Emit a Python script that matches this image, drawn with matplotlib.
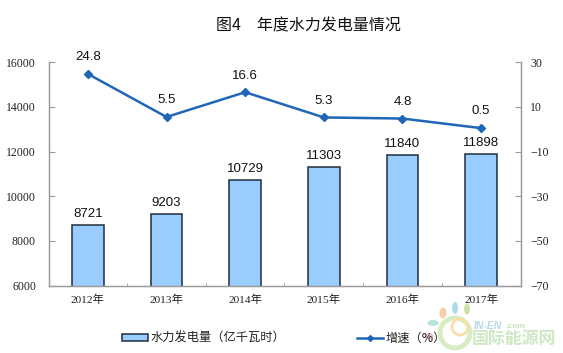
import matplotlib
matplotlib.use("Agg")
import matplotlib.pyplot as plt
from matplotlib.lines import Line2D
from matplotlib.patches import Ellipse, Patch

#Chart data
years = ["2012年", "2013年", "2014年", "2015年", "2016年", "2017年"]
power = [8721, 9203, 10729, 11303, 11840, 11898]
growth = [24.8, 5.5, 16.6, 5.3, 4.8, 0.5]
left_ticks = [6000, 8000, 10000, 12000, 14000, 16000]
right_ticks = [-70, -50, -30, -10, 10, 30]

W, H = 563, 353
serif_cjk = ["Liberation Serif", "Noto Sans CJK SC"]
cjk = ["Noto Sans CJK SC", "DejaVu Sans"]
axis_gray = "#9a9a9a"
line_blue = "#1f66b8"

fig = plt.figure(figsize=(W / 100, H / 100), dpi=100)
ax = fig.add_axes([48.5 / W, 1 - 285.5 / H, 472 / W, 223.2 / H])
ax2 = ax.twinx()

x = list(range(len(years)))

#Bars on the left axis
ax.bar(x, power, width=0.405, color="#99ccff", edgecolor="#1f2d3a", linewidth=1.1, zorder=2)
ax.set_xlim(-0.5, 5.5)
ax.set_ylim(6000, 16000)
ax.set_yticks(left_ticks)
ax.set_xticks(x)
ax.set_xticklabels(years, family=serif_cjk, fontsize=8.2, color="#222222")
ax.set_xticks([i + 0.5 for i in x[:-1]], minor=True)
ax.tick_params(axis="x", which="major", length=0, pad=6.5)
ax.tick_params(axis="x", which="minor", direction="in", length=2, width=0.6, color=axis_gray)
ax.tick_params(axis="y", direction="in", length=4, width=0.8, color=axis_gray, pad=9)
for t in ax.get_yticklabels():
    t.set_family("Liberation Serif")
    t.set_fontsize(8.5)
    t.set_color("#222222")

for i, v in zip(x, power):
    ax.annotate(str(v), (i, v), xytext=(0, 8), textcoords="offset points", ha="center", va="center",
                family="Liberation Sans", fontsize=9.5, color="#111111")

#Growth line on the right axis
ax2.plot(x, growth, color=line_blue, linewidth=1.8, marker="D", markersize=3.6, zorder=3)
ax2.set_ylim(-70, 30)
ax2.set_yticks(right_ticks)
ax2.tick_params(axis="y", direction="in", length=4, width=0.8, color=axis_gray, pad=7)
for t in ax2.get_yticklabels():
    t.set_family("Liberation Serif")
    t.set_fontsize(8.5)
    t.set_color("#222222")

for i, v in zip(x, growth):
    ax2.annotate(str(v), (i, v), xytext=(0, 12), textcoords="offset points", ha="center", va="center",
                 family="Liberation Sans", fontsize=9.5, color="#111111")

for a in (ax, ax2):
    a.spines["top"].set_visible(False)
    for name in ("left", "right", "bottom"):
        a.spines[name].set_color(axis_gray)
        a.spines[name].set_linewidth(0.9)

#Title
fig.text(308 / W, 1 - 25.5 / H, "图4\u2002\u2002年度水力发电量情况", ha="center", va="center",
         family=cjk, fontsize=11.5, color="#111111")

#Legend
handles = [
    Patch(facecolor="#99ccff", edgecolor="#1f2d3a", linewidth=1.1),
    Line2D([], [], color=line_blue, linewidth=1.8, marker="D", markersize=3),
]
labels = ["水力发电量（亿千瓦时）", "增速（%）"]
leg = fig.legend(handles, labels, loc="center left", bbox_to_anchor=(122 / W, 1 - 338.5 / H), ncol=2, frameon=False,
                 prop={"family": cjk, "size": 8.8}, handlelength=2.1, handleheight=0.45,
                 handletextpad=0.2, columnspacing=5.9, borderpad=0, borderaxespad=0)
for t in leg.get_texts():
    t.set_color("#222222")

#Watermark in the lower right corner
def px(px_x, px_y):
    return px_x / W, 1 - px_y / H

petals = [
    (443, 313, 7, 11, "#f6c9a0"),
    (455, 308, 6, 12, "#a9d5ec"),
    (467, 309, 6, 11, "#c5dfa0"),
    (433, 323, 11, 6, "#b5e0d8"),
    (429, 336, 9, 6, "#e8b8c0"),
]
for cx, cy, w, h, col in petals:
    fig.add_artist(Ellipse(px(cx, cy), w / W, h / H, facecolor=col, edgecolor="none", alpha=0.9))
fig.add_artist(Ellipse(px(455, 333), 30 / W, 30 / H, facecolor="none", edgecolor="#d8ecc4", linewidth=3.5))
fig.add_artist(Ellipse(px(460, 327), 16 / W, 16 / H, facecolor="none", edgecolor="#f8e0a8", linewidth=2))
fig.text(*px(474, 326), "IN-EN", ha="left", va="center", family="Liberation Sans", fontsize=7.5,
         style="italic", weight="bold", color="#b4dbe6")
fig.text(*px(505, 327), ".com", ha="left", va="center", family="Liberation Sans", fontsize=6,
         weight="bold", color="#c4e2b8")
fig.text(*px(472, 338.5), "国际能源网", ha="left", va="center", family=cjk, fontsize=12.2,
         weight="bold", color="#cfe8c4")

fig.savefig("out.png", dpi=100)
